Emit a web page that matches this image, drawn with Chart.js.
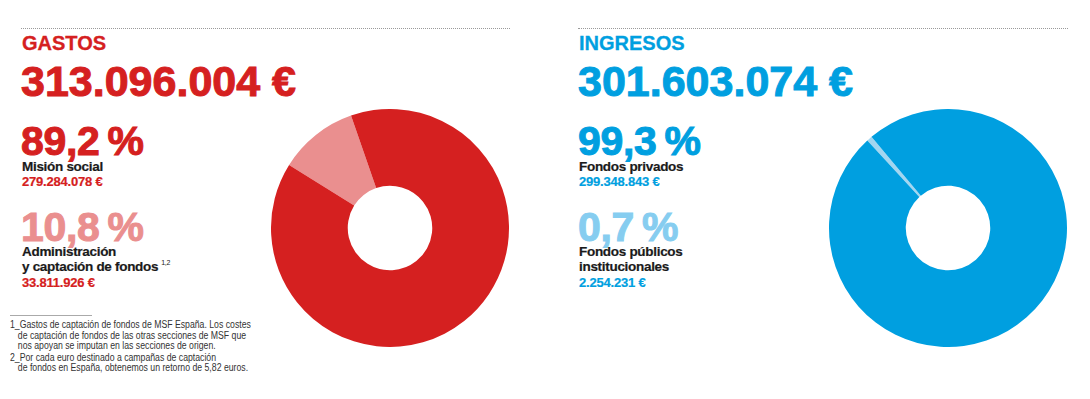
<!DOCTYPE html>
<html lang="es">
<head>
<meta charset="UTF-8">
<title>Gastos e ingresos</title>
<script src="https://cdn.jsdelivr.net/npm/chart.js"></script>
<style>
    body { margin: 0; background: #fff; }
    #page { position: relative; width: 1090px; height: 399px; overflow: hidden; font-family: "Liberation Sans", Arial, sans-serif; }
    .abs { position: absolute; white-space: nowrap; line-height: 1; }
    .rule { position: absolute; top: 28px; height: 0; border-top: 1px dotted #9a9a9a; }
    .title { font-size: 20px; font-weight: bold; -webkit-text-stroke: 0.3px currentColor; }
    .total { font-size: 43px; font-weight: bold; -webkit-text-stroke: 1px currentColor; }
    .pct { font-size: 41px; font-weight: bold; letter-spacing: -0.3px; -webkit-text-stroke: 1px currentColor; }
    .lbl { font-size: 13.5px; font-weight: bold; color: #1a1a1a; line-height: 15px; letter-spacing: -0.3px; -webkit-text-stroke: 0.2px currentColor; }
    .amt { font-size: 13px; font-weight: bold; letter-spacing: -0.2px; -webkit-text-stroke: 0.2px currentColor; }
    sup { font-size: 7px; font-weight: normal; line-height: 0; position: relative; top: -6px; vertical-align: baseline; margin-left: 3px; -webkit-text-stroke: 0; }
    .notes { position: absolute; left: 10px; top: 320px; font-size: 10px; line-height: 10.6px; color: #333; transform: scaleX(0.87); transform-origin: 0 0; }
    .notes p { margin: 0 0 1px 0; padding-left: 9px; text-indent: -9px; white-space: nowrap; }
    .chartbox { position: absolute; width: 238px; height: 238px; }
</style>
</head>
<body>
<div id="page">
    <div class="rule" style="left:21px; width:489px;"></div>
    <div class="rule" style="left:578px; width:490px;"></div>

    <div id="gastos"></div>
    <div id="ingresos"></div>

    <div style="position:absolute; left:10px; top:315px; width:82px; border-top:1px solid #aaa;"></div>
    <div class="notes">
        <p>1_Gastos de captación de fondos de MSF España. Los costes<br>de captación de fondos de las otras secciones de MSF que<br>nos apoyan se imputan en las secciones de origen.</p>
        <p>2_Por cada euro destinado a campañas de captación<br>de fondos en España, obtenemos un retorno de 5,82 euros.</p>
    </div>

    <div class="chartbox" style="left:271px; top:109px;"><canvas id="gastosChart" width="238" height="238"></canvas></div>
    <div class="chartbox" style="left:829px; top:109px;"><canvas id="ingresosChart" width="238" height="238"></canvas></div>
</div>

<script>
    // data
    const gastosCategories = ['Misión social', 'Administración<br>y captación de fondos<sup>1,2</sup>'];
    const gastosValues = [279284078, 33811926];
    const ingresosCategories = ['Fondos privados', 'Fondos públicos<br>institucionales'];
    const ingresosValues = [299348843, 2254231];

    // colours
    const red = '#d52020', redLight = '#ea8f8f';
    const blue = '#009fe0', blueLight = '#a3d6f0', blueText = '#86cdf0';

    // 313096004 -> "313.096.004"
    const fmt = n => String(n).replace(/\B(?=(\d{3})+(?!\d))/g, '.');
    const pct = (v, total) => (v / total * 100).toFixed(1).replace('.', ',') + '\u2009%';

    function buildColumn(el, x, title, cats, vals, colors, pctColors) {
        const total = vals.reduce((a, b) => a + b, 0);
        let html = `<div class="abs title" style="left:${x}px; top:33px; color:${colors[0]}">${title}</div>`;
        html += `<div class="abs total" style="left:${x - 1}px; top:60px; color:${colors[0]}">${fmt(total)} €</div>`;
        const blocks = [
            { pctTop: 121, lblTop: 159, amtTop: 175 },
            { pctTop: 207, lblTop: 244, amtTop: 276 }
        ];
        cats.forEach((c, i) => {
            const b = blocks[i];
            html += `<div class="abs pct" style="left:${x - 1}px; top:${b.pctTop}px; color:${pctColors[i]}">${pct(vals[i], total)}</div>`;
            html += `<div class="abs lbl" style="left:${x}px; top:${b.lblTop}px;">${c}</div>`;
            html += `<div class="abs amt" style="left:${x}px; top:${b.amtTop}px; color:${colors[0]}">${fmt(vals[i])} €</div>`;
        });
        el.innerHTML = html;
    }

    buildColumn(document.getElementById('gastos'), 22, 'GASTOS', gastosCategories, gastosValues, [red], [red, redLight]);
    buildColumn(document.getElementById('ingresos'), 579, 'INGRESOS', ingresosCategories, ingresosValues, [blue], [blue, blueText]);

    function doughnut(id, labels, values, colors, rotation) {
        // small slice first so that rotation places it at the top-left
        return new Chart(document.getElementById(id), {
            type: 'doughnut',
            data: {
                labels: [labels[1], labels[0]],
                datasets: [{
                    data: [values[1], values[0]],
                    backgroundColor: [colors[1], colors[0]],
                    borderWidth: 0
                }]
            },
            options: {
                responsive: false,
                animation: false,
                cutout: '35.5%',
                rotation: rotation,
                layout: { padding: 0 },
                plugins: { legend: { display: false }, tooltip: { enabled: false } }
            }
        });
    }

    doughnut('gastosChart', ['Misión social', 'Administración y captación de fondos'], gastosValues, [red, redLight], -58);
    doughnut('ingresosChart', ['Fondos privados', 'Fondos públicos institucionales'], ingresosValues, [blue, blueLight], -42.7);
</script>
</body>
</html>
